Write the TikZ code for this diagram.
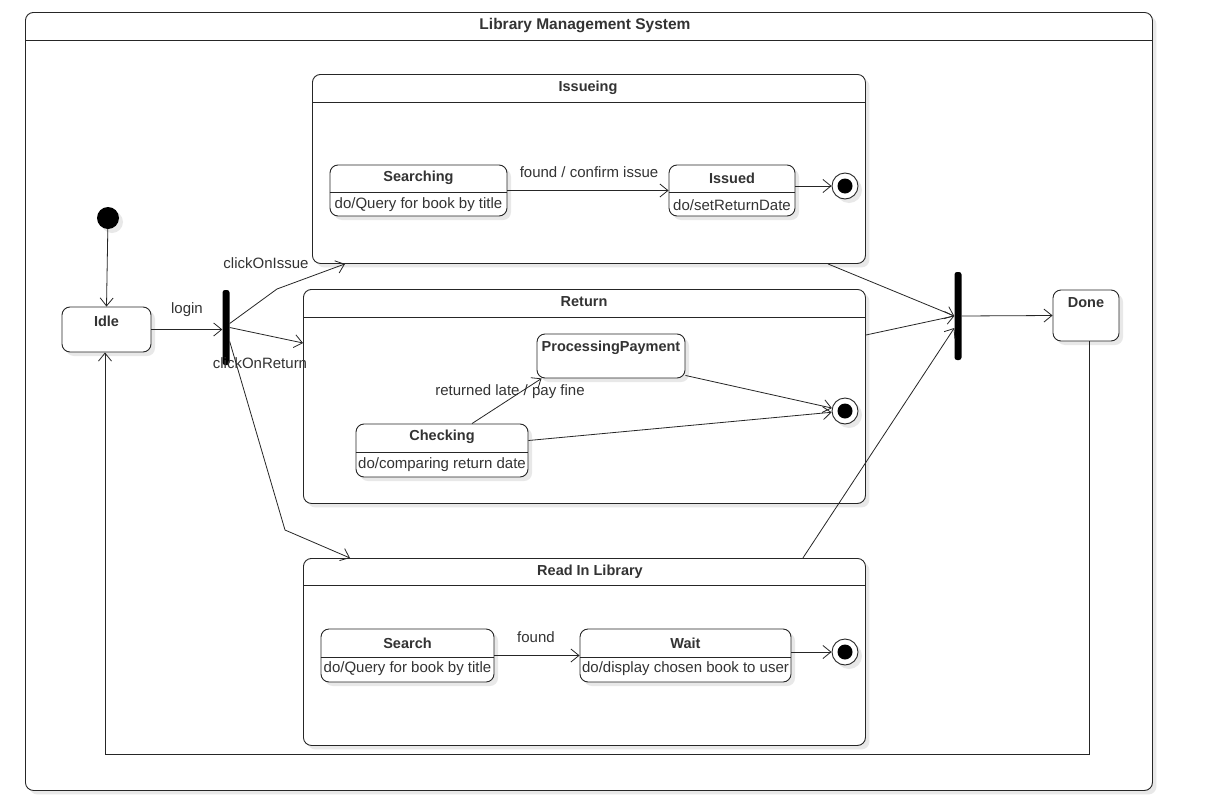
\documentclass[tikz,border=0pt]{standalone}
\usepackage{fontspec}
\setmainfont{Liberation Sans}
\usetikzlibrary{arrows.meta,shadows,calc}
\begin{document}
\begin{tikzpicture}[x=1pt,y=-1pt,
  every node/.style={font=\fontsize{15}{17}\selectfont, text=black!80},
  lbl/.style={inner sep=0pt},
  bold/.style={inner sep=0pt, font=\fontsize{14.5}{17}\selectfont\bfseries},
  shad/.style={drop shadow={shadow xshift=4pt, shadow yshift=-4pt, fill=black!9, opacity=1}},
  st/.style={draw=black!85, line width=0.9pt, rounded corners=8pt, fill=white, shad, inner sep=0pt},
  comp/.style={draw=black!85, line width=0.9pt, rounded corners=8pt, fill=white, shad, inner sep=0pt},
  bar/.style={fill=black, inner sep=0pt, rounded corners=2.5pt, minimum width=7pt},
  initst/.style={circle, fill=black, inner sep=0pt, minimum size=22pt, shad},
  finalst/.style={circle, draw=black!85, line width=0.9pt, fill=white, inner sep=0pt, minimum size=26pt, shad,
     path picture={\fill[black] (path picture bounding box.center) circle (7.5pt);}},
  tr/.style={draw=black!85, line width=0.8pt, -{Straight Barb[length=8pt,width=13pt,line width=0.8pt]}},
]
\useasboundingbox (0,0) rectangle (1207,811);
\fill[white] (0,0) rectangle (1207,811);

% outer frame
\node[comp, minimum width=1127pt, minimum height=778pt, anchor=north west] (sys) at (25,12) {};
\draw[black!85, line width=0.9pt] ($(sys.north west)+(0,28)$) -- ($(sys.north east)+(0,28)$);
\node[bold, font=\fontsize{15.5}{17}\selectfont\bfseries] (sysT) at (585,26) {Library Management System};

% Issueing composite
\node[comp, minimum width=553pt, minimum height=189pt, anchor=north west] (iss) at (312,74) {};
\draw[black!85, line width=0.9pt] ($(iss.north west)+(0,28)$) -- ($(iss.north east)+(0,28)$);
\node[bold] (issT) at (588,88) {Issueing};

\node[st, minimum width=177pt, minimum height=51pt] (srch) at (418.5,190.5) {};
\draw[black!85, line width=0.8pt] ($(srch.west)+(0,1.5)$) -- ($(srch.east)+(0,1.5)$);
\node[bold] (srchT) at (418.5,178) {Searching};
\node[lbl] (srchA) at (418.5,205) {do/Query for book by title};

\node[st, minimum width=126pt, minimum height=51pt] (isd) at (732,190.5) {};
\draw[black!85, line width=0.8pt] ($(isd.west)+(0,1.5)$) -- ($(isd.east)+(0,1.5)$);
\node[bold] (isdT) at (732,178) {Issued};
\node[lbl] (isdA) at (732,205) {do/setReturnDate};

\node[finalst] (fin1) at (845,186) {};

\draw[tr] (srch.east) -- (isd.west);
\node[lbl] (l1) at (589,172) {found / confirm issue};
\draw[tr] (fin1.west -| isd.east) -- (fin1.west);

% Return composite
\node[comp, minimum width=562pt, minimum height=214pt, anchor=north west] (ret) at (303,289) {};
\draw[black!85, line width=0.9pt] ($(ret.north west)+(0,28)$) -- ($(ret.north east)+(0,28)$);
\node[bold] (retT) at (584,302) {Return};

\node[st, minimum width=148pt, minimum height=44pt] (pp) at (611,356) {};
\node[bold] (ppT) at (611,348) {ProcessingPayment};

\node[st, minimum width=172pt, minimum height=53pt] (chk) at (442,450.5) {};
\draw[black!85, line width=0.8pt] ($(chk.west)+(0,1.5)$) -- ($(chk.east)+(0,1.5)$);
\node[bold] (chkT) at (442,437) {Checking};
\node[lbl] (chkA) at (442,465) {do/comparing return date};

\node[finalst] (fin2) at (845,411) {};

\draw[tr] ($(chk.north)+(30,0)$) -- ($(pp.south west)+(5,0)$);
\node[lbl] (l2) at (510,392) {returned late / pay fine};
\draw[tr] ($(pp.south east)+(0,-3)$) -- (fin2);
\draw[tr] ($(chk.east)+(0,-10)$) -- (fin2);

% Read In Library composite
\node[comp, minimum width=562pt, minimum height=187pt, anchor=north west] (rd) at (303,558) {};
\draw[black!85, line width=0.9pt] ($(rd.north west)+(0,27)$) -- ($(rd.north east)+(0,27)$);
\node[bold] (rdT) at (590,572) {Read In Library};

\node[st, minimum width=173pt, minimum height=53pt] (srh) at (407.5,655.5) {};
\draw[black!85, line width=0.8pt] ($(srh.west)+(0,1.5)$) -- ($(srh.east)+(0,1.5)$);
\node[bold] (srhT) at (407.5,643) {Search};
\node[lbl] (srhA) at (407.5,669) {do/Query for book by title};

\node[st, minimum width=211pt, minimum height=53pt] (wt) at (685.5,655.5) {};
\draw[black!85, line width=0.8pt] ($(wt.west)+(0,1.5)$) -- ($(wt.east)+(0,1.5)$);
\node[bold] (wtT) at (685.5,643) {Wait};
\node[lbl] (wtA) at (685.5,669) {do/display chosen book to user};

\node[finalst] (fin3) at (845,652) {};

\draw[tr] (srh.east) -- (wt.west);
\node[lbl] (l3) at (536,637) {found};
\draw[tr] (fin3.west -| wt.east) -- (fin3.west);

% top level states
\node[initst] (init) at (108,218) {};
\node[st, minimum width=89pt, minimum height=45pt] (idle) at (106.5,329.5) {};
\node[bold] (idleT) at (106.5,321) {Idle};
\node[bar, minimum height=75pt] (fork) at (226,327.5) {};
\node[bar, minimum height=88pt] (join) at (958,316) {};
\node[st, minimum width=66pt, minimum height=51pt] (done) at (1086,315.5) {};
\node[bold] (doneT) at (1086,303) {Done};

% transitions
\draw[tr] (init) -- (idle.north);
\draw[tr] (idle.east) -- (idle.east -| fork.west);
\node[lbl] (lg) at (187,310) {login};

\draw[tr] ($(fork.east)+(0,-4)$) -- (277,289) -- ($(iss.south west)+(33,0)$);
\node[lbl] (ci) at (266,263) {clickOnIssue};
\draw[tr] (fork.east) -- ($(ret.north west)+(0,54)$);
\node[lbl] (cr) at (260,363) {clickOnReturn};
\draw[tr] ($(fork.east)+(0,14)$) -- (285,530) -- ($(rd.north west)+(47,0)$);

\draw[tr] ($(iss.south east)+(-38,0)$) -- (join.west);
\draw[tr] ($(ret.north east)+(0,46)$) -- (join.west);
\draw[tr] ($(rd.north east)+(-63,0)$) -- ($(join.west)+(0,12)$);
\draw[tr] (join.east) -- (done.west);
\draw[tr] ($(done.south)+(3,0)$) -- ++(0,413) -| ($(idle.south)+(-1.5,0)$);
\end{tikzpicture}
\end{document}
